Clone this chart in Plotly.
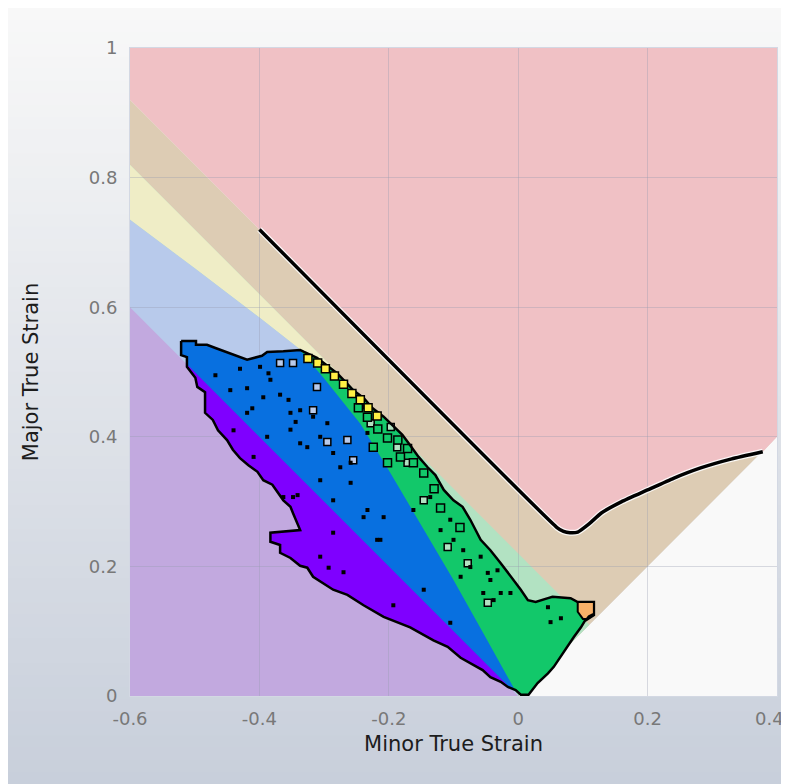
import plotly.graph_objects as go

# ---------------- axes ----------------
X_TICKS = [-0.6, -0.4, -0.2, 0, 0.2, 0.4]
X_TICK_LABELS = ["-0.6", "-0.4", "-0.2", "0", "0.2", "0.4"]
Y_TICKS = [0, 0.2, 0.4, 0.6, 0.8, 1]
Y_TICK_LABELS = ["0", "0.2", "0.4", "0.6", "0.8", "1"]
X_TITLE = "Minor True Strain"
Y_TITLE = "Major True Strain"

# ---------------- forming limit curve ----------------
FLC_X = [-0.4, 0.06, 0.07, 0.08, 0.092, 0.11, 0.128, 0.16, 0.2, 0.24, 0.282, 0.33, 0.378]
FLC_Y = [0.72, 0.26, 0.254, 0.252, 0.253, 0.266, 0.282, 0.300, 0.318, 0.336, 0.352, 0.366, 0.377]

# ---------------- zone boundaries ----------------
CRACK_X = [-0.6] + FLC_X + [0.4]          # cracks zone lower boundary
CRACK_Y = [0.92] + FLC_Y + [0.4]
MARGIN_X = [-0.6, 0.11]                   # risk-of-cracks lower boundary
MARGIN_Y = [0.82, 0.11]
THIN_X = [-0.6, -0.5, -0.4, -0.34, -0.30, -0.25, -0.2]     # excess thinning lower boundary
THIN_Y = [0.735, 0.66, 0.584, 0.537, 0.505, 0.46, 0.42]
COMP_X = [-0.6, -0.5, -0.4, -0.34, -0.30, -0.244, -0.198, -0.1, -0.05, 0.0]   # compression boundary
COMP_Y = [0.735, 0.66, 0.584, 0.537, 0.49, 0.42, 0.345, 0.179, 0.09, 0.0]
THICK_X = [-0.6, 0.0]                     # thickening boundary
THICK_Y = [0.6, 0.0]
BIAX_X = [0.0, 0.4]                       # equi-biaxial limit
BIAX_Y = [0.0, 0.4]

# ---------------- strain point cloud (outline) ----------------
BLOB_X = [-0.521, -0.498, -0.498, -0.481, -0.468, -0.445, -0.419, -0.396, -0.388, -0.363,
          -0.337, -0.331, -0.311, -0.298, -0.280, -0.270, -0.255, -0.239, -0.225, -0.208,
          -0.194, -0.179, -0.167, -0.154, -0.140, -0.128, -0.115, -0.100, -0.086, -0.074,
          -0.058, -0.043, -0.027, -0.009, 0.004, 0.015, 0.027, 0.046, 0.053, 0.081,
          0.092, 0.117, 0.117, 0.103, 0.097, 0.086, 0.076, 0.066, 0.055, 0.046,
          0.030, 0.016, 0.004, -0.004, -0.016, -0.027, -0.043, -0.055, -0.069, -0.089,
          -0.109, -0.131, -0.167, -0.208, -0.239, -0.264, -0.286, -0.317, -0.326, -0.337,
          -0.352, -0.368, -0.368, -0.383, -0.383, -0.337, -0.348, -0.352, -0.363, -0.371,
          -0.380, -0.394, -0.403, -0.417, -0.430, -0.441, -0.450, -0.464, -0.472, -0.484,
          -0.484, -0.496, -0.499, -0.512, -0.512, -0.521]
BLOB_Y = [0.548, 0.548, 0.542, 0.542, 0.537, 0.529, 0.519, 0.525, 0.531, 0.532,
          0.534, 0.531, 0.522, 0.512, 0.498, 0.488, 0.472, 0.460, 0.444, 0.431,
          0.418, 0.403, 0.387, 0.369, 0.353, 0.341, 0.318, 0.302, 0.292, 0.272,
          0.241, 0.225, 0.205, 0.182, 0.164, 0.148, 0.145, 0.151, 0.153, 0.151,
          0.145, 0.145, 0.125, 0.116, 0.106, 0.091, 0.076, 0.060, 0.045, 0.035,
          0.020, 0.002, 0.002, 0.009, 0.014, 0.022, 0.029, 0.040, 0.048, 0.059,
          0.076, 0.086, 0.106, 0.122, 0.140, 0.156, 0.164, 0.184, 0.198, 0.201,
          0.213, 0.221, 0.233, 0.238, 0.252, 0.256, 0.282, 0.292, 0.302, 0.313,
          0.326, 0.333, 0.346, 0.356, 0.367, 0.380, 0.395, 0.410, 0.426, 0.437,
          0.469, 0.477, 0.491, 0.508, 0.523, 0.526]

YELLOW_X = [-0.325, -0.31, -0.298, -0.284, -0.27, -0.257, -0.244, -0.232, -0.218]
YELLOW_Y = [0.521, 0.514, 0.505, 0.494, 0.481, 0.467, 0.457, 0.445, 0.432]
ORANGE_X = [0.092, 0.117, 0.117, 0.109, 0.106, 0.100, 0.092]
ORANGE_Y = [0.145, 0.145, 0.127, 0.123, 0.119, 0.119, 0.130]
BLUE_HOLE_X = [-0.368, -0.348, -0.317, -0.295, -0.264, -0.255, -0.311]
BLUE_HOLE_Y = [0.514, 0.514, 0.441, 0.392, 0.395, 0.364, 0.477]
GREEN_HOLE_X = [-0.244, -0.228, -0.187, -0.171, -0.197, -0.109, -0.078, -0.047, -0.146]
GREEN_HOLE_Y = [0.449, 0.421, 0.384, 0.360, 0.415, 0.230, 0.205, 0.144, 0.302]
GREEN_CELL_X = [-0.247, -0.233, -0.217, -0.202, -0.186, -0.182, -0.162, -0.146, -0.202,
                -0.224, -0.171, -0.13, -0.12, -0.09]
GREEN_CELL_Y = [0.445, 0.430, 0.412, 0.398, 0.395, 0.369, 0.360, 0.344, 0.360,
                0.384, 0.382, 0.32, 0.29, 0.26]
SPECK_X = [-0.468, -0.445, -0.430, -0.419, -0.411, -0.399, -0.386, -0.383, -0.368, -0.355,
           -0.352, -0.337, -0.344, -0.317, -0.306, -0.326, -0.286, -0.275, -0.352, -0.394,
           -0.419, -0.388, -0.337, -0.306, -0.286, -0.259, -0.233, -0.208, -0.218, -0.259,
           -0.295, -0.233, -0.286, -0.348, -0.306, -0.341, -0.293, -0.270, -0.193, -0.146,
           -0.105, -0.213, -0.239, -0.162, -0.440, -0.409, -0.363, -0.100, -0.085, -0.058,
           -0.043, -0.027, -0.089, -0.120, -0.074, -0.054, -0.105, -0.136, -0.032, 0.046,
           0.050, 0.066, -0.038, -0.047, -0.012]
SPECK_Y = [0.495, 0.472, 0.505, 0.475, 0.444, 0.508, 0.498, 0.488, 0.465, 0.457,
           0.437, 0.441, 0.423, 0.431, 0.400, 0.384, 0.375, 0.353, 0.411, 0.461,
           0.437, 0.400, 0.390, 0.333, 0.302, 0.360, 0.287, 0.276, 0.241, 0.329,
           0.421, 0.406, 0.252, 0.307, 0.215, 0.310, 0.198, 0.191, 0.140, 0.164,
           0.113, 0.241, 0.276, 0.287, 0.410, 0.369, 0.307, 0.241, 0.225, 0.215,
           0.179, 0.159, 0.184, 0.256, 0.199, 0.159, 0.272, 0.307, 0.194, 0.137,
           0.114, 0.120, 0.148, 0.190, 0.159]

# ---------------- colours ----------------
C_CRACK = "#f0c1c5"
C_RISK = "#ddccb4"
C_THIN = "#efedc6"
C_SAFE = "#b2e2c2"
C_COMP = "#b8caeb"
C_THICK = "#c2a9df"
C_NONE = "#f9f9f9"
P_SAFE = "#12c86a"
P_COMP = "#0870e0"
P_THICK = "#7f00ff"
P_THIN = "#fff045"
P_RISK = "#f8b068"


def path_of(xs, ys):
    pts = " L ".join(f"{x},{y}" for x, y in zip(xs, ys))
    return "M " + pts + " Z"


def clip_polygon(subject, clipper):
    area = sum(clipper[i][0] * clipper[(i + 1) % len(clipper)][1]
               - clipper[(i + 1) % len(clipper)][0] * clipper[i][1] for i in range(len(clipper)))
    sgn = 1 if area > 0 else -1

    def inside(p, a, b):
        return sgn * ((b[0] - a[0]) * (p[1] - a[1]) - (b[1] - a[1]) * (p[0] - a[0])) >= 0

    def inter(p, q, a, b):
        x1, y1 = p; x2, y2 = q; x3, y3 = a; x4, y4 = b
        den = (x1 - x2) * (y3 - y4) - (y1 - y2) * (x3 - x4)
        t = ((x1 - x3) * (y3 - y4) - (y1 - y3) * (x3 - x4)) / den
        return (x1 + t * (x2 - x1), y1 + t * (y2 - y1))

    out = list(subject)
    for i in range(len(clipper)):
        a, b = clipper[i], clipper[(i + 1) % len(clipper)]
        inp, out = out, []
        if not inp:
            break
        prev = inp[-1]
        for cur in inp:
            if inside(cur, a, b):
                if not inside(prev, a, b):
                    out.append(inter(prev, cur, a, b))
                out.append(cur)
            elif inside(prev, a, b):
                out.append(inter(prev, cur, a, b))
            prev = cur
    return out


blob = list(zip(BLOB_X, BLOB_Y))
comp_zone = list(zip(COMP_X, COMP_Y)) + [(-0.6, 0.0)]
thick_zone = list(zip(THICK_X, THICK_Y)) + [(-0.6, 0.0)]
blue_part = clip_polygon(blob, comp_zone)
purple_part = clip_polygon(blob, thick_zone)

fig = go.Figure()

# ---------------- figure size / margins ----------------
FIG_W, FIG_H = 781, 776
M_L, M_R, M_T, M_B = 122, 12, 40, 88
PW = FIG_W - M_L - M_R
PH = FIG_H - M_T - M_B

# ---------------- zone shapes (below gridlines) ----------------
shapes = []
n_bands = 64
top_c = (248, 248, 248)
bot_c = (200, 207, 219)
py_top, py_bot = 1 + M_T / PH, -M_B / PH
px_l, px_r = -M_L / PW, 1 + M_R / PW
for i in range(n_bands):
    f = i / (n_bands - 1)
    c = tuple(int(round(top_c[k] + (bot_c[k] - top_c[k]) * f)) for k in range(3))
    y1 = py_top - (py_top - py_bot) * i / n_bands
    y0 = py_top - (py_top - py_bot) * (i + 1) / n_bands - 0.002
    shapes.append(dict(type="rect", xref="paper", yref="paper", x0=px_l, x1=px_r,
                       y0=y0, y1=y1, fillcolor=f"rgb{c}", line=dict(width=0), layer="below"))

zone_paths = [
    (path_of(BIAX_X + [0.4], BIAX_Y + [0.0]), C_NONE),
    (path_of(CRACK_X + BIAX_X[::-1] + [-0.6], CRACK_Y + BIAX_Y[::-1] + [0.0]), C_RISK),
    (path_of([-0.6, 0.4] + CRACK_X[::-1], [1.0, 1.0] + CRACK_Y[::-1]), C_CRACK),
    (path_of(MARGIN_X + [0.0, -0.6], MARGIN_Y + [0.0, 0.0]), C_SAFE),
    (path_of([MARGIN_X[0]] + THIN_X[::-1], [MARGIN_Y[0]] + THIN_Y[::-1]), C_THIN),
    (path_of(COMP_X + [-0.6], COMP_Y + [0.0]), C_COMP),
    (path_of(THICK_X + [-0.6], THICK_Y + [0.0]), C_THICK),
]
for p, c in zone_paths:
    shapes.append(dict(type="path", xref="x", yref="y", path=p, fillcolor=c,
                       line=dict(width=0), layer="below"))

# ---------------- FLC line ----------------
fig.add_trace(go.Scatter(x=FLC_X, y=FLC_Y, mode="lines",
                         line=dict(color="rgba(255,255,255,0.85)", width=6, shape="spline", smoothing=0.4),
                         hoverinfo="skip", showlegend=False))
fig.add_trace(go.Scatter(x=FLC_X, y=FLC_Y, mode="lines",
                         line=dict(color="black", width=3.5, shape="spline", smoothing=0.4),
                         hoverinfo="skip", showlegend=False))

# ---------------- point cloud ----------------
def fill_poly(pts, color):
    xs = [p[0] for p in pts] + [pts[0][0]]
    ys = [p[1] for p in pts] + [pts[0][1]]
    fig.add_trace(go.Scatter(x=xs, y=ys, mode="none", fill="toself", fillcolor=color,
                             hoverinfo="skip", showlegend=False))

fill_poly(blob, P_SAFE)
fill_poly(blue_part, P_COMP)
fill_poly(purple_part, P_THICK)


def squares(xs, ys, color, size, lw):
    fig.add_trace(go.Scatter(x=xs, y=ys, mode="markers",
                             marker=dict(symbol="square", size=size, color=color,
                                         line=dict(color="black", width=lw)),
                             hoverinfo="skip", showlegend=False))

squares(BLUE_HOLE_X, BLUE_HOLE_Y, C_COMP, 7, 1.5)
squares(GREEN_HOLE_X, GREEN_HOLE_Y, C_SAFE, 7, 1.5)
squares(GREEN_CELL_X, GREEN_CELL_Y, P_SAFE, 8, 1.5)
squares(SPECK_X, SPECK_Y, "black", 4, 0)

fig.add_trace(go.Scatter(x=BLOB_X + [BLOB_X[0]], y=BLOB_Y + [BLOB_Y[0]], mode="lines",
                         line=dict(color="black", width=2.5), hoverinfo="skip", showlegend=False))
squares(YELLOW_X, YELLOW_Y, P_THIN, 8, 1.5)
fig.add_trace(go.Scatter(x=ORANGE_X + [ORANGE_X[0]], y=ORANGE_Y + [ORANGE_Y[0]], mode="lines",
                         fill="toself", fillcolor=P_RISK, line=dict(color="black", width=2),
                         hoverinfo="skip", showlegend=False))

tick_font = dict(family="DejaVu Sans", size=18, color="#787878")
title_font = dict(family="DejaVu Sans", size=21, color="#1c1c1c")
grid_c = "rgba(150,155,175,0.35)"

# last x tick label sits at the right edge: draw it as an annotation nudged inward
x_ticktext = X_TICK_LABELS[:-1] + [""]
annotations = [dict(x=X_TICKS[-1], y=0, xref="x", yref="paper", text=X_TICK_LABELS[-1],
                    showarrow=False, xanchor="right", yanchor="middle", xshift=9, yshift=-22,
                    font=tick_font)]

fig.update_layout(
    width=FIG_W, height=FIG_H,
    margin=dict(l=M_L, r=M_R, t=M_T, b=M_B, autoexpand=False),
    paper_bgcolor="white", plot_bgcolor=C_NONE,
    shapes=shapes, annotations=annotations,
    xaxis=dict(range=[-0.6, 0.4], tickvals=X_TICKS, ticktext=x_ticktext,
               showgrid=True, gridcolor=grid_c, gridwidth=1, zeroline=False,
               showline=True, linecolor="#d3d8e3", mirror=True,
               ticks="outside", ticklen=6, tickcolor="rgba(0,0,0,0)",
               automargin=False,
               tickfont=tick_font, title=dict(text=X_TITLE, font=title_font, standoff=8),
               fixedrange=True),
    yaxis=dict(range=[0, 1], tickvals=Y_TICKS, ticktext=Y_TICK_LABELS,
               showgrid=True, gridcolor=grid_c, gridwidth=1, zeroline=False,
               showline=True, linecolor="#d3d8e3", mirror=True,
               ticks="outside", ticklen=8, tickcolor="rgba(0,0,0,0)",
               ticklabeloverflow="allow", automargin=False,
               tickfont=tick_font, title=dict(text=Y_TITLE, font=title_font, standoff=44),
               fixedrange=True),
)

fig.write_html("out.html")
